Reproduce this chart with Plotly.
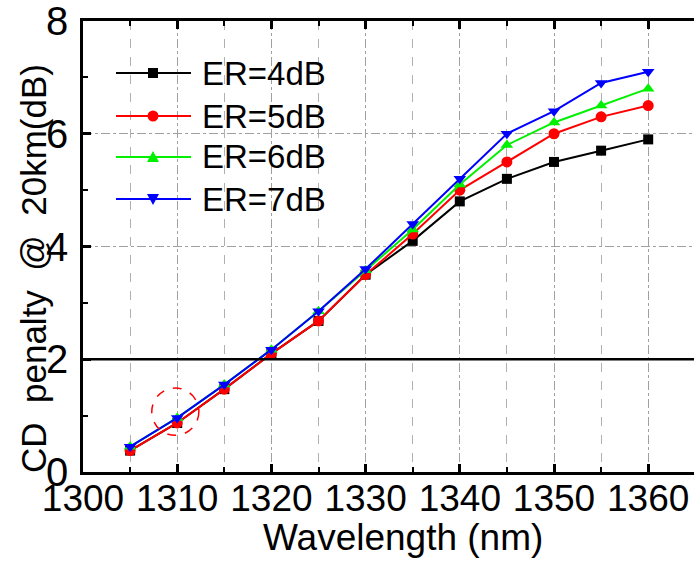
import plotly.graph_objects as go

# ---- data ----
wavelength = [1305, 1310, 1315, 1320, 1325, 1330, 1335, 1340, 1345, 1350, 1355, 1360]
er4 = [0.38, 0.87, 1.47, 2.10, 2.68, 3.50, 4.10, 4.80, 5.20, 5.50, 5.70, 5.90]
er5 = [0.38, 0.87, 1.47, 2.10, 2.68, 3.50, 4.22, 5.00, 5.50, 6.00, 6.30, 6.50]
er6 = [0.45, 0.96, 1.55, 2.17, 2.85, 3.58, 4.30, 5.10, 5.80, 6.20, 6.50, 6.80]
er7 = [0.45, 0.96, 1.55, 2.17, 2.85, 3.60, 4.40, 5.20, 6.00, 6.40, 6.90, 7.10]
names = ["ER=4dB", "ER=5dB", "ER=6dB", "ER=7dB"]
colors = ["#000000", "#ff0000", "#00f000", "#0000ff"]
symbols = ["square", "circle", "triangle-up", "triangle-down"]
series = [er4, er5, er6, er7]
threshold = 2
x_ticks = [1300, 1310, 1320, 1330, 1340, 1350, 1360]
y_ticks = [0, 2, 4, 6, 8]

FONT = "Liberation Sans, Arial, sans-serif"
W, H = 694, 561
L, R, T, B = 83, 0, 21, 89
PW, PH = W - L - R, H - T - B


def px(x):
    return (x - L) / PW


def py(y):
    return (H - B - y) / PH


fig = go.Figure()
for nm, c, s, ys in zip(names, colors, symbols, series):
    fig.add_trace(go.Scatter(
        x=wavelength, y=ys, name=nm, mode="lines+markers",
        line=dict(color=c, width=2),
        marker=dict(symbol=s, size=11 if s != "square" else 10, color=c),
        showlegend=False,
    ))

shapes = []
# threshold line
shapes.append(dict(type="line", xref="paper", yref="y", x0=0, x1=1, y0=threshold, y1=threshold,
                   line=dict(color="black", width=2.5), layer="above"))
# dashed circle highlight
shapes.append(dict(type="circle", xref="x", yref="y", x0=1307.3, x1=1312.3, y0=0.65, y1=1.49,
                   line=dict(color="red", width=1.5, dash="dash")))

annotations = []
# manual legend
leg_y = [73, 116, 157, 199]
for nm, c, s, yy in zip(names, colors, symbols, leg_y):
    shapes.append(dict(type="line", xref="paper", yref="paper", x0=px(116), x1=px(191),
                       y0=py(yy), y1=py(yy), line=dict(color=c, width=2)))
    mx = 153
    if s == "square":
        shapes.append(dict(type="rect", xref="paper", yref="paper", x0=px(mx - 5), x1=px(mx + 5),
                           y0=py(yy + 5), y1=py(yy - 5), fillcolor=c, line=dict(width=0)))
    elif s == "circle":
        shapes.append(dict(type="circle", xref="paper", yref="paper", x0=px(mx - 5.5), x1=px(mx + 5.5),
                           y0=py(yy + 5.5), y1=py(yy - 5.5), fillcolor=c, line=dict(width=0)))
    elif s == "triangle-up":
        p = f"M {px(mx-6)},{py(yy+5)} L {px(mx+6)},{py(yy+5)} L {px(mx)},{py(yy-6)} Z"
        shapes.append(dict(type="path", xref="paper", yref="paper", path=p, fillcolor=c, line=dict(width=0)))
    else:
        p = f"M {px(mx-6)},{py(yy-5)} L {px(mx+6)},{py(yy-5)} L {px(mx)},{py(yy+6)} Z"
        shapes.append(dict(type="path", xref="paper", yref="paper", path=p, fillcolor=c, line=dict(width=0)))
    annotations.append(dict(text=nm, xref="paper", yref="paper", x=px(200), y=py(yy),
                            xanchor="left", yanchor="middle", showarrow=False,
                            font=dict(family=FONT, size=33, color="black")))

# axis titles
annotations.append(dict(text="Wavelength (nm)", xref="paper", yref="paper", x=px(403), y=py(537),
                        xanchor="center", yanchor="middle", showarrow=False,
                        font=dict(family=FONT, size=37, color="black")))
annotations.append(dict(text="CD\u00a0\u00a0penalty\u00a0\u00a0@\u00a0\u00a020km(dB)", xref="paper", yref="paper",
                        x=px(33), y=py(269), textangle=-90,
                        xanchor="center", yanchor="middle", showarrow=False,
                        font=dict(family=FONT, size=35, color="black")))

fig.update_layout(
    width=W, height=H,
    margin=dict(l=L, r=R, t=T, b=B, pad=0, autoexpand=False),
    paper_bgcolor="white", plot_bgcolor="white",
    font=dict(family=FONT, size=31, color="black"),
    shapes=shapes, annotations=annotations,
    showlegend=False,
)
fig.update_xaxes(
    automargin=False, ticklabeloverflow="allow",
    range=[1300, 1300 + PW / 9.42], tickvals=x_ticks, ticktext=[str(v) for v in x_ticks],
    ticks="inside", ticklen=8, tickwidth=2.5, tickcolor="black",
    showline=True, linewidth=2.5, linecolor="black", mirror="allticks",
    showgrid=True, gridcolor="#a0a0a0", gridwidth=1, griddash="dashdot",
    minor=dict(dtick=5, tick0=1305, ticks="inside", ticklen=5, tickwidth=2, tickcolor="black",
               showgrid=True, gridcolor="#b0b0b0", gridwidth=1, griddash="dash"),
    tickfont=dict(family=FONT, size=37), ticklabelstandoff=-8,
    zeroline=False,
)
fig.update_yaxes(
    automargin=False, ticklabeloverflow="allow",
    range=[0, 8], tickvals=y_ticks, ticktext=[str(v) for v in y_ticks],
    ticks="inside", ticklen=8, tickwidth=2.5, tickcolor="black",
    showline=True, linewidth=2.5, linecolor="black", mirror=False,
    showgrid=True, gridcolor="#a0a0a0", gridwidth=1, griddash="dashdot",
    minor=dict(dtick=1, tick0=0, ticks="inside", ticklen=5, tickwidth=2, tickcolor="black", showgrid=False),
    tickfont=dict(family=FONT, size=40), ticklabelstandoff=4,
    zeroline=False,
)

fig.write_html("out.html", config={"displayModeBar": False},
               post_script="document.body.style.margin='0';document.body.style.padding='0';")
